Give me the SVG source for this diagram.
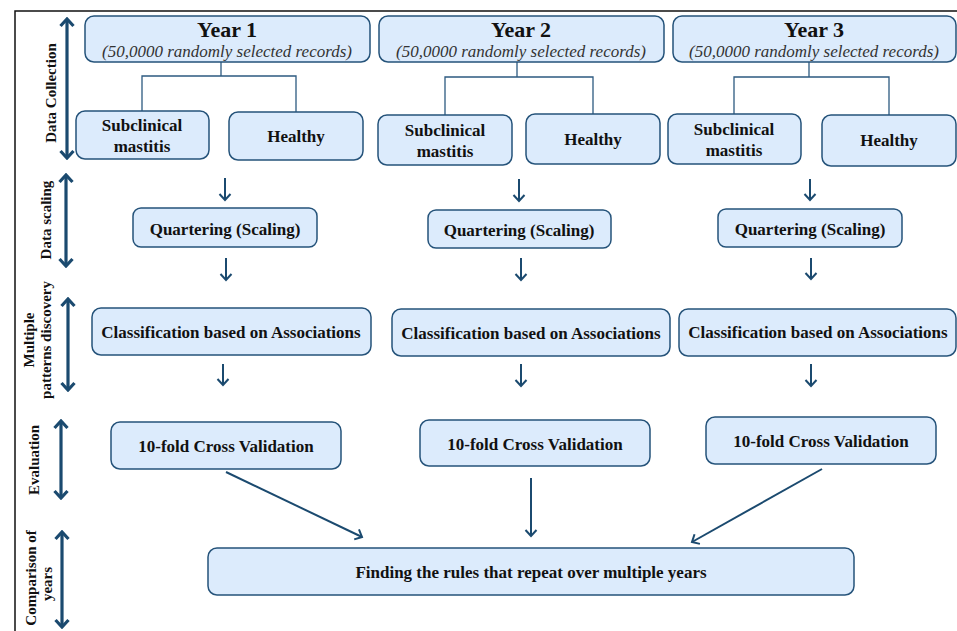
<svg xmlns="http://www.w3.org/2000/svg" width="957" height="631" viewBox="0 0 957 631" font-family="Liberation Serif, Times New Roman, serif">
<style>
.box{fill:#dcebfc;stroke:#25537a;stroke-width:1.5}
.t{font-weight:bold;font-size:17px;fill:#111;text-anchor:middle}
.yr{font-size:22px}
.sub{font-weight:normal;font-style:italic;font-size:17px;fill:#333}
.side{font-weight:bold;font-size:15px;fill:#111;text-anchor:middle}
.tree{fill:none;stroke:#2d5a80;stroke-width:1.3}
.arr{fill:none;stroke:#1b4a6f;stroke-width:2;marker-end:url(#ah)}
.dbl{fill:none;stroke:#1b4a6f;stroke-width:3.2;marker-start:url(#dh);marker-end:url(#dh)}
.frame{fill:none;stroke:#111;stroke-width:1.5}
</style>
<defs>
<marker id="ah" markerUnits="userSpaceOnUse" viewBox="-8 -7 10 14" refX="0" refY="0" markerWidth="10" markerHeight="14" orient="auto">
<path d="M-6,-5.5 L0,0 L-6,5.5" fill="none" stroke="#1b4a6f" stroke-width="2"/>
</marker>
<marker id="dh" markerUnits="userSpaceOnUse" viewBox="-9 -8 11 16" refX="0" refY="0" markerWidth="11" markerHeight="16" orient="auto-start-reverse">
<path d="M-7,-6.5 L0,0 L-7,6.5" fill="none" stroke="#1b4a6f" stroke-width="3.2"/>
</marker>
</defs>
<rect width="957" height="631" fill="#fff"/>
<path class="frame" d="M15,631 V11 H957"/>

<g id="side-labels">
<line class="dbl" x1="67" y1="19" x2="67" y2="158"/>
<text class="side" transform="translate(56,93) rotate(-90)">Data Collection</text>
<line class="dbl" x1="66" y1="175" x2="66" y2="266"/>
<text class="side" transform="translate(51,220) rotate(-90)">Data scaling</text>
<line class="dbl" x1="68" y1="299" x2="68" y2="390"/>
<text class="side" transform="translate(34,340) rotate(-90)">Multiple</text>
<text class="side" transform="translate(51,340) rotate(-90)">patterns discovery</text>
<line class="dbl" x1="61" y1="421" x2="61" y2="498"/>
<text class="side" transform="translate(39,460) rotate(-90)">Evaluation</text>
<line class="dbl" x1="62" y1="532" x2="62" y2="627"/>
<text class="side" transform="translate(36,578) rotate(-90)">Comparison of</text>
<text class="side" transform="translate(52,584) rotate(-90)">years</text>
</g>

<g id="connectors">
<path class="tree" d="M221,62 V76 M142,111 V76 H296 V112"/>
<path class="tree" d="M517,62 V77 M445,115 V77 H593 V114"/>
<path class="tree" d="M809,62 V77 M734,114 V77 H889 V115"/>
<line class="arr" x1="225" y1="178" x2="225" y2="200"/>
<line class="arr" x1="226" y1="258" x2="226" y2="280"/>
<line class="arr" x1="223" y1="364" x2="223" y2="385"/>
<line class="arr" x1="519" y1="179" x2="519" y2="201"/>
<line class="arr" x1="521" y1="258" x2="521" y2="280"/>
<line class="arr" x1="521" y1="364" x2="521" y2="386"/>
<line class="arr" x1="810" y1="179" x2="810" y2="200"/>
<line class="arr" x1="811" y1="258" x2="811" y2="279"/>
<line class="arr" x1="811" y1="364" x2="811" y2="386"/>
<line class="arr" x1="226" y1="472" x2="362" y2="537"/>
<line class="arr" x1="531" y1="478" x2="531" y2="536"/>
<line class="arr" x1="822" y1="469" x2="692" y2="542"/>
</g>

<g id="year1">
<rect class="box" x="85" y="16" width="285" height="46" rx="9"/>
<text class="t yr" x="227" y="37">Year 1</text>
<text class="t sub" x="227" y="57">(50,0000 randomly selected records)</text>
</g>
<g id="year2">
<rect class="box" x="379" y="16" width="285" height="46" rx="9"/>
<text class="t yr" x="521" y="37">Year 2</text>
<text class="t sub" x="521" y="57">(50,0000 randomly selected records)</text>
</g>
<g id="year3">
<rect class="box" x="673" y="16" width="283" height="46" rx="9"/>
<text class="t yr" x="814" y="37">Year 3</text>
<text class="t sub" x="814" y="57">(50,0000 randomly selected records)</text>
</g>

<g id="sub1"><rect class="box" x="76" y="111" width="133" height="48" rx="9"/>
<text class="t" x="142" y="131">Subclinical</text><text class="t" x="142" y="152">mastitis</text></g>
<g id="healthy1"><rect class="box" x="229" y="112" width="134" height="48" rx="9"/>
<text class="t" x="296" y="142">Healthy</text></g>
<g id="sub2"><rect class="box" x="378" y="115" width="134" height="50" rx="9"/>
<text class="t" x="445" y="136">Subclinical</text><text class="t" x="445" y="157">mastitis</text></g>
<g id="healthy2"><rect class="box" x="526" y="114" width="134" height="50" rx="9"/>
<text class="t" x="593" y="145">Healthy</text></g>
<g id="sub3"><rect class="box" x="668" y="114" width="133" height="50" rx="9"/>
<text class="t" x="734" y="135">Subclinical</text><text class="t" x="734" y="156">mastitis</text></g>
<g id="healthy3"><rect class="box" x="822" y="115" width="134" height="51" rx="9"/>
<text class="t" x="889" y="146">Healthy</text></g>

<g id="quart1"><rect class="box" x="133" y="208" width="184" height="39" rx="8"/>
<text class="t" x="225" y="235">Quartering (Scaling)</text></g>
<g id="quart2"><rect class="box" x="428" y="210" width="183" height="38" rx="8"/>
<text class="t" x="519" y="236">Quartering (Scaling)</text></g>
<g id="quart3"><rect class="box" x="718" y="209" width="184" height="38" rx="8"/>
<text class="t" x="810" y="235">Quartering (Scaling)</text></g>

<g id="class1"><rect class="box" x="92" y="308" width="279" height="47" rx="9"/>
<text class="t" x="231" y="338">Classification based on Associations</text></g>
<g id="class2"><rect class="box" x="392" y="309" width="278" height="47" rx="9"/>
<text class="t" x="531" y="339">Classification based on Associations</text></g>
<g id="class3"><rect class="box" x="679" y="309" width="277" height="47" rx="9"/>
<text class="t" x="818" y="338">Classification based on Associations</text></g>

<g id="cv1"><rect class="box" x="111" y="422" width="230" height="47" rx="9"/>
<text class="t" x="226" y="452">10-fold Cross Validation</text></g>
<g id="cv2"><rect class="box" x="420" y="420" width="230" height="46" rx="9"/>
<text class="t" x="535" y="450">10-fold Cross Validation</text></g>
<g id="cv3"><rect class="box" x="706" y="417" width="230" height="47" rx="9"/>
<text class="t" x="821" y="447">10-fold Cross Validation</text></g>

<g id="final"><rect class="box" x="208" y="548" width="646" height="47" rx="9"/>
<text class="t" x="531" y="578">Finding the rules that repeat over multiple years</text></g>
</svg>
